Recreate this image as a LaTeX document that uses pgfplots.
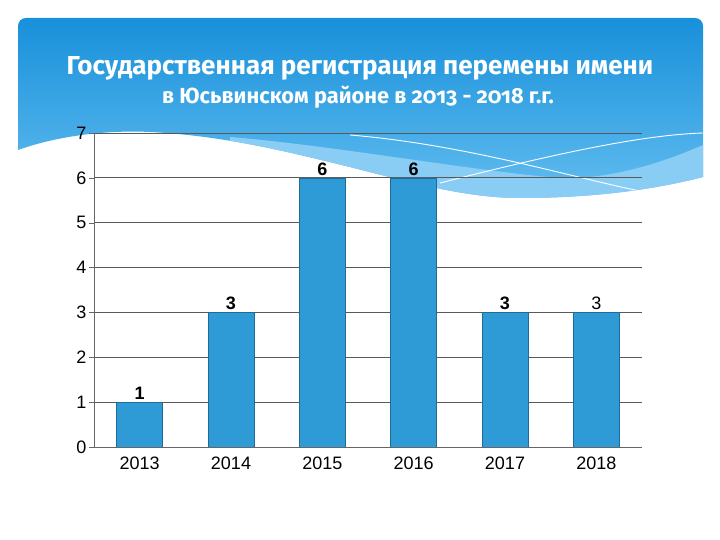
\documentclass[border=0pt]{standalone}
\usepackage{pgfplots}
\pgfplotsset{compat=1.18}
\usepackage{fontspec}
\setmainfont{Liberation Sans}
\newfontfamily\titlefont[Numbers=OldStyle]{Fira Sans}
\definecolor{barblue}{HTML}{2E9AD6}
\definecolor{baredge}{HTML}{1F6A98}
\definecolor{hdrtop}{HTML}{1890DA}
\definecolor{hdrbot}{HTML}{62BDF0}
\definecolor{wave}{HTML}{8ACDF4}
\begin{document}
\begin{tikzpicture}[x=1pt,y=1pt]
\path[use as bounding box,fill=white] (0,0) rectangle (720,540);
% header background, bounded below by the white wave
\begin{scope}
\clip[rounded corners=8pt] (18,330) rectangle (703,522);
\clip (18,390) .. controls (60,405) and (110,410) .. (150,408)
  .. controls (230,404) and (300,385) .. (350,373)
  .. controls (420,355) and (470,342) .. (520,342)
  .. controls (600,342) and (660,352) .. (703,363) -- (703,540) -- (18,540) -- cycle;
\shade[top color=hdrtop,bottom color=hdrbot] (18,340) rectangle (703,522);
\fill[wave] (230,403) .. controls (330,395) and (480,368) .. (560,362)
  .. controls (620,360) and (680,385) .. (703,395) -- (703,330) -- (230,330) -- cycle;
\draw[white,line width=0.9pt] (350,405) .. controls (470,395) and (580,360) .. (650,347);
\draw[white,line width=0.9pt] (440,357) .. controls (550,385) and (640,405) .. (703,407);
\end{scope}
\node[text=white,font=\titlefont\bfseries\fontsize{26}{29}\selectfont] at (360,472) {Государственная регистрация перемены имени};
\node[text=white,font=\titlefont\bfseries\fontsize{21.8}{25}\selectfont] at (358,443) {в Юсьвинском районе в 2013 - 2018 г.г.};
\begin{axis}[
  at={(94pt,93pt)}, anchor=south west,
  width=548pt, height=314pt, scale only axis,
  xmin=-0.5, xmax=5.5, ymin=0, ymax=7,
  axis x line*=bottom, axis y line*=left,
  axis line style={draw=gray!80!black, line width=0.8pt},
  xtick={0,...,5},
  xticklabels={2013,2014,2015,2016,2017,2018},
  x tick style={draw=none},
  extra x ticks={-0.5,0.5,1.5,2.5,3.5,4.5,5.5},
  extra x tick labels={},
  extra x tick style={major tick length=6pt, tick align=outside, grid=none, tick style={draw=gray!80!black}},
  ytick={0,...,7},
  y tick style={draw=gray!80!black},
  major tick length=5pt, tick align=outside,
  ymajorgrids, grid style={draw=black!65, line width=0.8pt},
  /pgf/number format/assume math mode=true,
  ticklabel style={font=\fontsize{18}{21}\selectfont},
  xticklabel style={yshift=-1pt},
  yticklabel style={xshift=1pt},
  nodes near coords,
  point meta=explicit symbolic,
  every node near coord/.append style={font=\fontsize{18}{21}\selectfont, yshift=-1pt},
]
\addplot[ybar, bar width=46pt, fill=barblue, draw=baredge, line width=0.6pt]
coordinates {(0,1) [\textbf{1}] (1,3) [\textbf{3}] (2,6) [\textbf{6}] (3,6) [\textbf{6}] (4,3) [\textbf{3}] (5,3) [3]};
\end{axis}
\end{tikzpicture}
\end{document}
